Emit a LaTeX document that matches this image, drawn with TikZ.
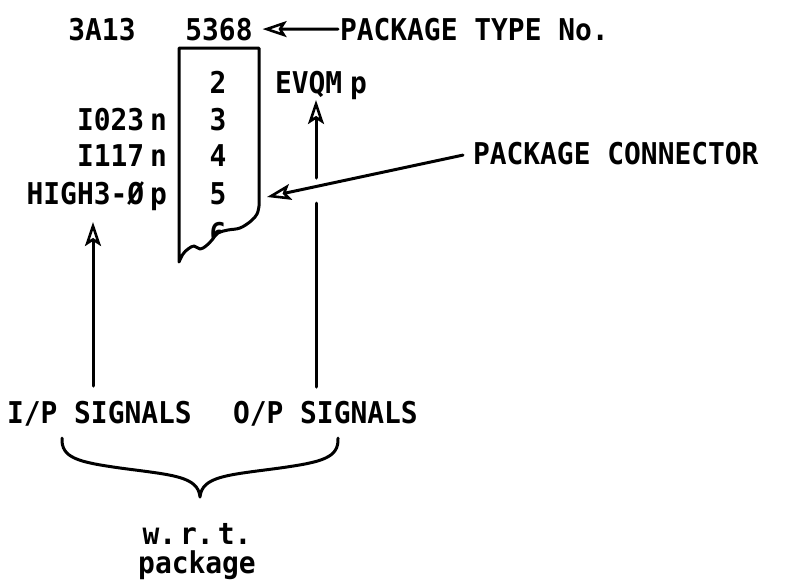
\documentclass[tikz,border=0pt]{standalone}
\usepackage{fontspec}
\newfontfamily\leroy[FakeStretch=0.93]{DejaVu Sans Mono}
\usetikzlibrary{arrows.meta}
\begin{document}
\begin{tikzpicture}[x=1pt,y=-1pt,
  lbl/.style={font=\leroy\bfseries\fontsize{30}{30}\selectfont, inner sep=0pt, outer sep=0pt},
  ln/.style={line width=3pt, line cap=round, line join=round},
  arr/.style={ln, -{Stealth[open,length=24pt,width=16pt,inset=5pt,line width=2.6pt]}}]
\useasboundingbox (0,0) rectangle (790,582);
% top row
\node[lbl,anchor=base] (cat) at (102,40) {3A13};
\node[lbl,anchor=base] (ptype) at (219,40) {5368};
\node[lbl,anchor=base west] (ptlabel) at (340,40) {PACKAGE TYPE No.};
\draw[arr] ([xshift=-2pt]ptlabel.west) -- ([xshift=10pt]ptype.east);
% package box with torn bottom
\draw[ln] plot[smooth, tension=0.6] coordinates {(179,262) (183,254) (188,249) (194,246) (200,249) (206,246) (212,240) (218,233) (228,230) (240,228) (251,221) (257,214) (259,206)} -- (259,48) -- (179,48) -- cycle;
\begin{scope}
\clip plot[smooth, tension=0.6] coordinates {(179,262) (183,254) (188,249) (194,246) (200,249) (206,246) (212,240) (218,233) (228,230) (240,228) (251,221) (257,214) (259,206)} -- (259,48) -- (179,48) -- cycle;
\node[lbl,anchor=base] (n6) at (218,244) {6};
\end{scope}
\node[lbl,anchor=base] (n2) at (218,93) {2};
\node[lbl,anchor=base] (n3) at (218,130) {3};
\node[lbl,anchor=base] (n4) at (218,166) {4};
\node[lbl,anchor=base] (n5) at (218,204) {5};
% signal labels
\node[lbl,anchor=base west] (evqm) at (275,93) {EVQM\hspace{8pt}p};
\node[lbl,anchor=base east] (s3) at (167,130) {I023\hspace{6pt}n};
\node[lbl,anchor=base east] (s4) at (167,166) {I117\hspace{6pt}n};
\node[lbl,anchor=base east] (s5) at (167,204) {HIGH3-Ø\hspace{6pt}p};
% package connector
\node[lbl,anchor=base west] (pc) at (473,164) {PACKAGE CONNECTOR};
\coordinate (pctip) at (267,197);
\draw[arr] ([xshift=-10pt,yshift=-2pt]pc.west) -- (pctip);
% bottom labels
\node[lbl,anchor=base west] (ip) at (7,423) {I/P SIGNALS};
\node[lbl,anchor=base west] (op) at (233,423) {O/P SIGNALS};
% vertical arrows
\coordinate (ipTop) at (93,222);
\coordinate (ipBot) at (93,386);
\draw[arr] (ipBot) -- (ipTop);
\coordinate (opTop) at (316,100);
\coordinate (opMidA) at (316,178);
\coordinate (opMidB) at (316,203);
\coordinate (opBot) at (316,387);
\draw[ln] (opBot) -- (opMidB);
\draw[arr] (opMidA) -- (opTop);
% brace
\draw[ln] (62,438) .. controls (61,458) and (78,462) .. (120,468) .. controls (172,475) and (198,476) .. (200,497) .. controls (202,476) and (228,475) .. (280,468) .. controls (322,462) and (339,458) .. (338,438);
\node[lbl,anchor=base] (wrt) at (197,544) {w.\hspace{4pt}r.\hspace{4pt}t.};
\node[lbl,anchor=base] (pkg) at (197,573) {package};
\end{tikzpicture}
\end{document}
